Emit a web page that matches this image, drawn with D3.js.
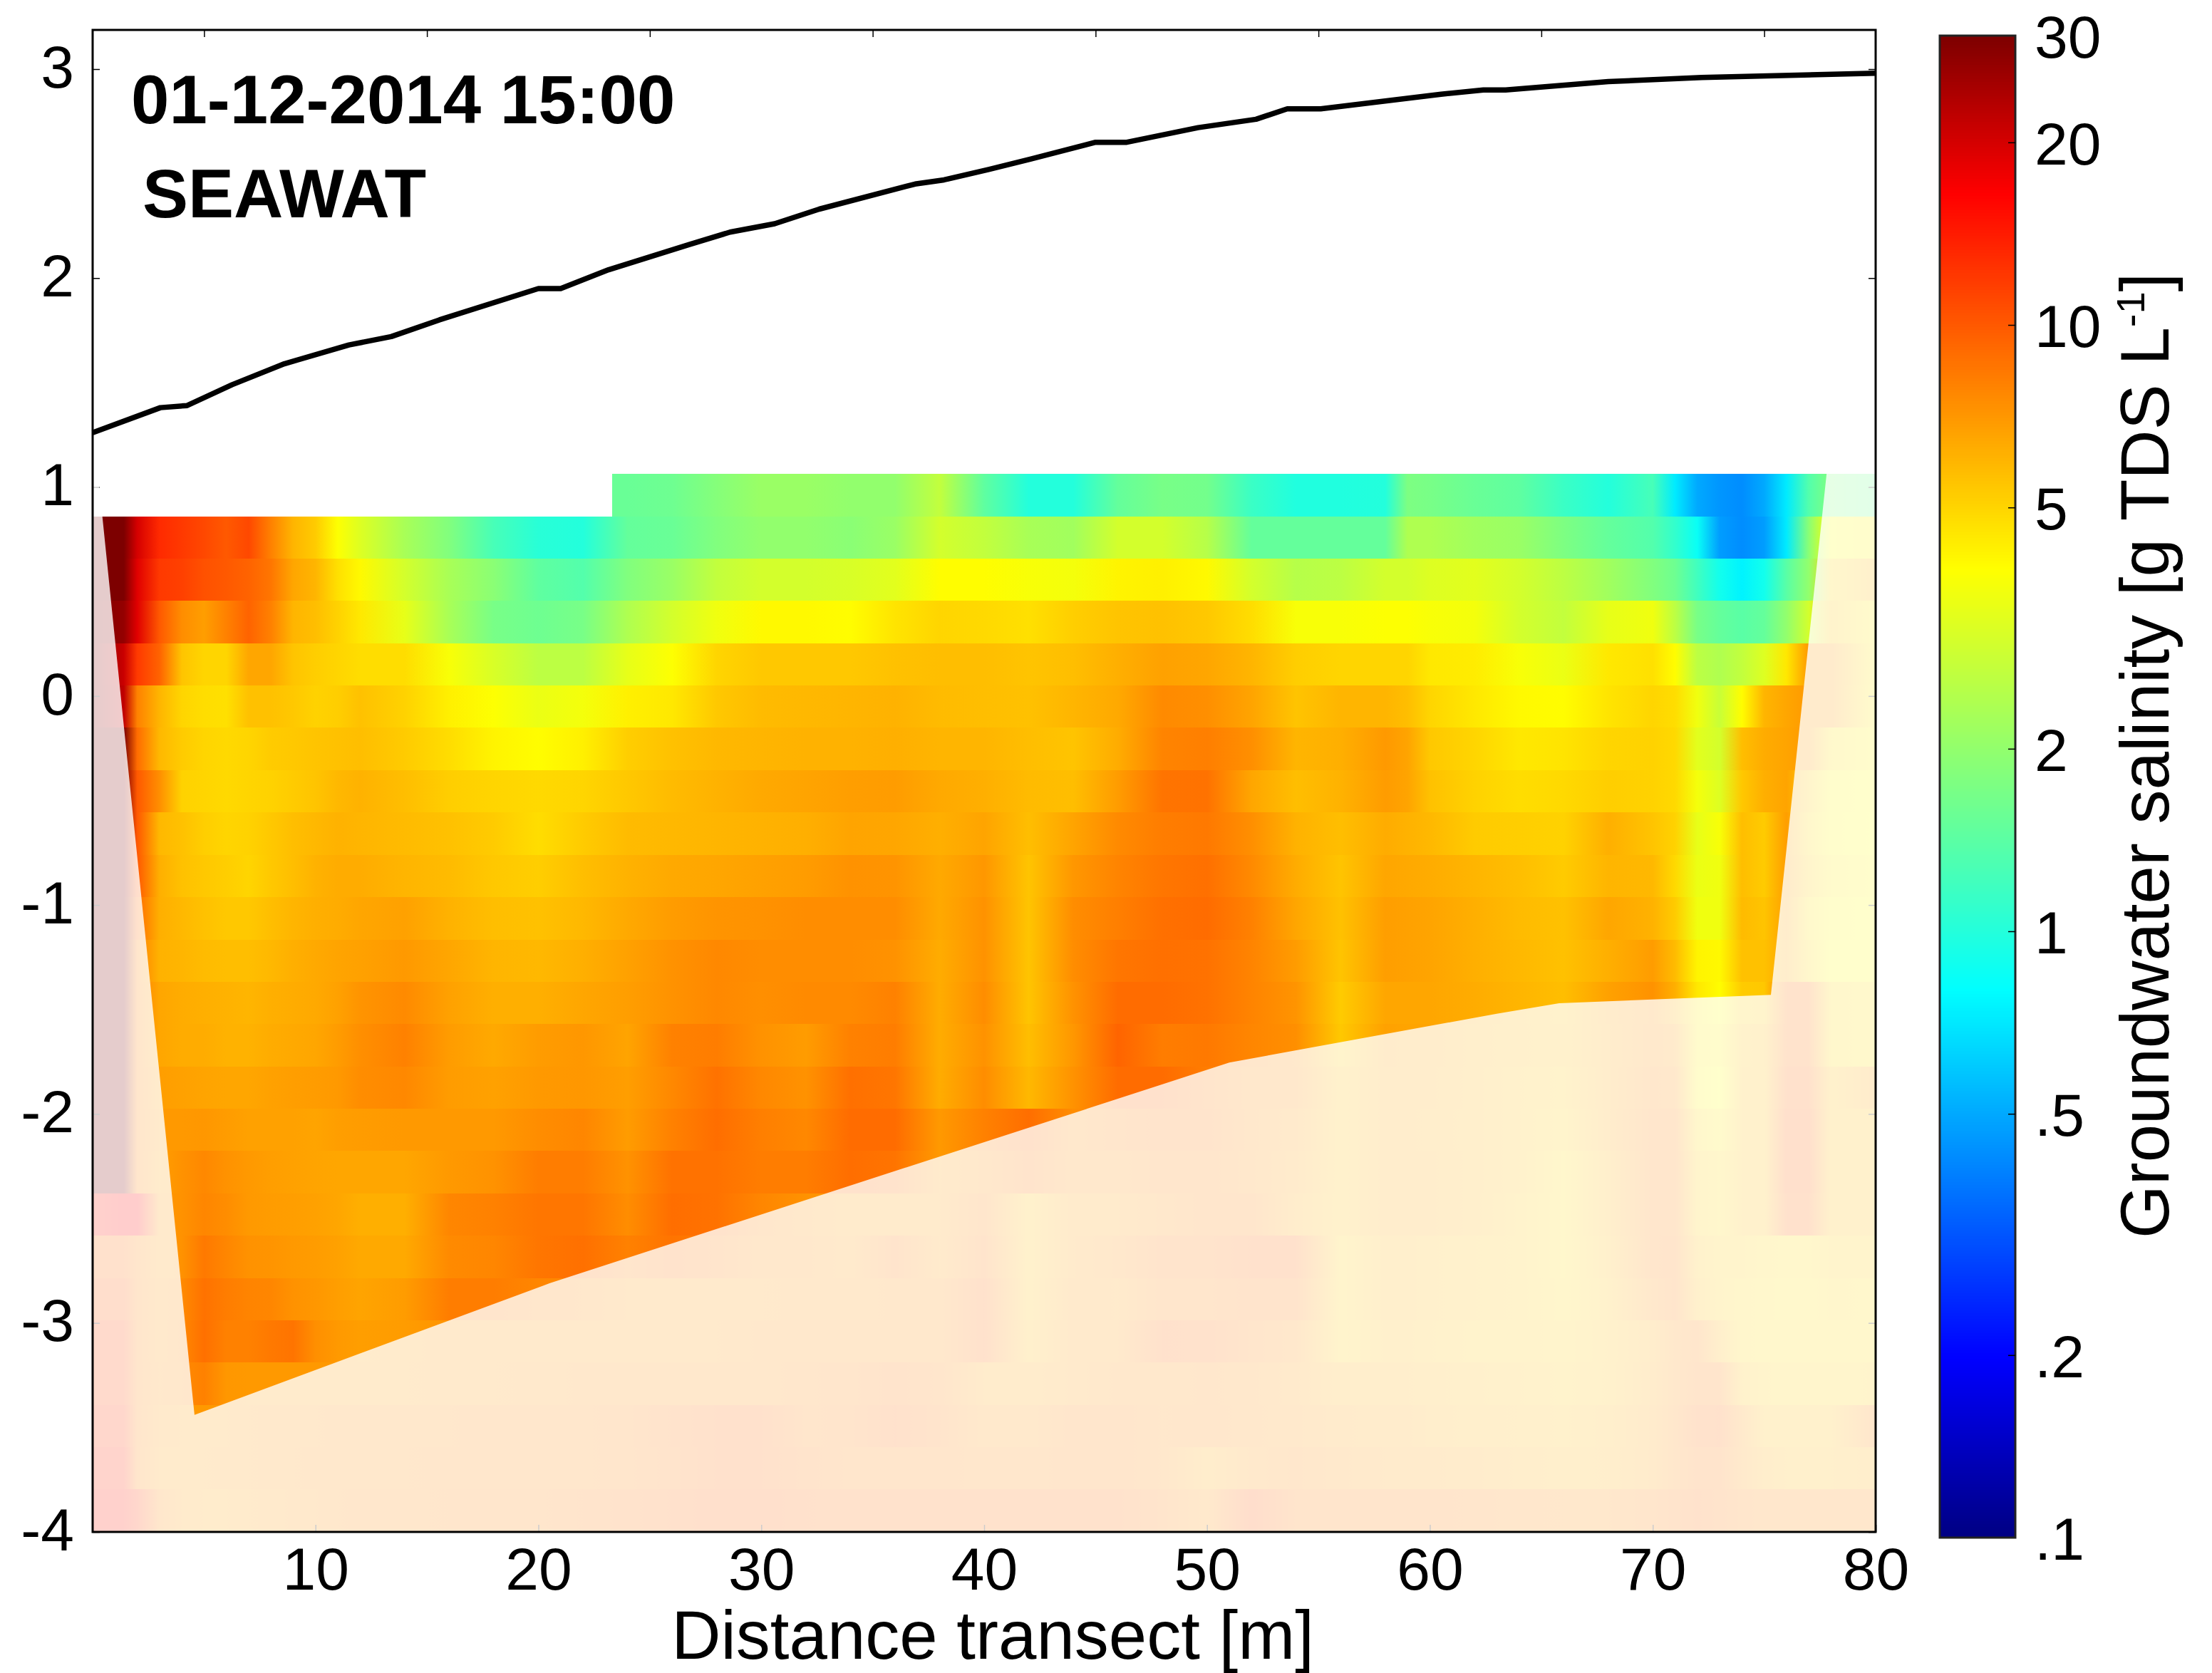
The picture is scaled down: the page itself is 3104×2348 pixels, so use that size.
<!DOCTYPE html>
<html><head><meta charset="utf-8">
<style>html,body{margin:0;padding:0;background:#fff}svg{display:block}text{font-family:"Liberation Sans",Arial,sans-serif;fill:#000}</style>
<script src="https://cdn.jsdelivr.net/npm/d3@7/dist/d3.min.js"></script>
</head><body><svg id="c" width="3104" height="2348"></svg>
<script>
// distance along the transect [m] of each sampled column
const columns=[0,1.4,2,3,4,5,6,7,8,9,10,11,12,
 14,16,18,20,22,24,26,28,30,32,34,36,38,40,42,44,46,48,50,52,54,56,58,
 59,
 60,62,64,66,68,70,
 71,72,73,74,75,76,77,78,
 80];
// layer edges [m]
const layerEdges=[1.063,.860,.658,.455,.253,.050,-.152,-.355,-.557,-.760,-.962,-1.165,-1.367,-1.570,-1.772,-1.975,-2.177,-2.380,-2.582,-2.785,-2.987,-3.190,-3.392,-3.595,-3.797,-4.0];
const layerStart=23.3; // top layer only exists right of this distance
// salinity per layer [g TDS/L]
const layer00=[null,null,null,null,null,null,null,null,null,null,null,null,null,
 null,null,null,null,null,1.55,1.6,1.85,2.1,2.1,2.0,2.0,2.7,1.45,1.0,1.0,1.5,1.7,1.65,1.15,.98,.98,1.0,
 1.75,
 1.7,1.55,1.45,1.15,1.0,1.25,
 .72,.5,.45,.43,.5,.72,1.35,1.8,
 1.6];
const layer01=[30,30,20,13,12,11,10,11,8,6,5.3,3.9,3.2,
 2.3,1.8,1.25,1.03,1.0,1.5,1.55,1.8,2.0,2.0,1.9,2.1,3.0,2.7,2.3,2.2,3.0,3.0,2.5,1.5,1.5,1.5,1.5,
 2.4,
 2.4,2.2,2.1,1.75,1.5,1.35,
 1.1,.85,.47,.43,.47,.72,1.9,4.0,
 4.3];
const layer02=[30,30,19,12,11.5,10.5,10,9.5,8.5,6.5,6,4.7,4.1,
 3.0,2.3,1.9,1.45,1.35,1.8,2.1,2.7,3.0,3.0,3.1,3.3,4.0,4.0,3.8,3.7,4.2,4.3,4.1,3.0,2.5,2.6,3.0,
 3.0,
 3.2,3.3,3.0,2.6,2.2,1.8,
 1.6,1.2,.9,.75,.9,1.4,2.0,5,
 6];
const layer03=[30,27,19,10,7.5,6.8,8,9.5,8,6,5.7,5.1,4.5,
 3.4,2.3,1.7,1.6,1.7,2.4,3.0,3.6,4.1,4.1,4.0,4.6,5.0,4.9,4.7,5.2,5.5,5.6,5.4,4.8,3.8,3.8,3.9,
 3.9,
 3.8,3.7,3.0,2.7,3.4,3.6,
 2.6,1.7,1.5,1.4,1.5,2.0,3.0,5.5,
 4.5];
const layer04=[30,21,12,9.5,5.5,5,5,6.5,6.5,5.5,5.2,5,4.8,
 4.8,3.8,3.1,2.6,2.6,3.4,3.9,5.0,5.4,5.4,5.4,5.6,5.7,5.7,5.5,5.7,6.2,6.7,6.5,6,5.2,5,5,
 5,
 4.5,4.4,3.8,3.5,4.5,4.7,
 4,2.6,2.4,2.7,3.2,4.5,7,7,
 4.5];
const layer05=[30,22,8,6,5,4.8,4.7,5.6,5.6,5.4,5.1,5.2,5.6,
 5.1,4.3,3.9,3.5,3.7,4.3,4.5,5.4,5.8,5.9,6,6.1,5.8,5.7,5.6,6.0,6.4,7.6,7.4,6.6,5.5,6,6,
 5.7,
 5,4.5,4.1,4,4.6,5,
 4.8,3.6,2.8,4,6,6.5,7,7,
 4.4];
const layer06=[30,30,9,5.9,5.3,5,4.9,5,5.3,5.4,5.5,5.6,5.7,
 5.3,4.8,4.2,4,4.3,5.2,5.6,5.9,6,6.1,6.1,6.2,6,6,5.7,5.5,6.3,7.9,8.1,7.4,6,6.2,7,
 6.6,
 5.4,5,4.5,4.6,5,5.1,
 4.9,3.3,3,5.7,6.3,6.6,7,4.8,
 4.3];
const layer07=[30,30,10,7.4,5.1,5,4.9,5,5.1,5.3,5.5,5.9,6.1,
 5.7,5.2,5,4.9,5,5.4,5.8,6.1,6.4,6.6,6.8,6.9,6.4,6.2,5.8,5.7,6.9,8.6,8.7,6.5,5.7,6.1,6.9,
 6.6,
 5.6,5.1,4.8,4.9,5.2,5.1,
 4.9,3.7,3.2,5.4,6.2,6.6,5.4,4.2,
 4.1];
const layer08=[30,30,10,5.9,5.6,5.2,5,5.1,5.4,5.7,5.9,6.1,6,
 5.8,5.6,5.3,4.8,5.3,5.8,5.9,6,6.1,6.2,6.6,6.5,6.2,6.6,5.7,6.6,7.6,8.2,8.4,7.4,6.1,5.7,6.3,
 6.1,
 5.9,5.3,5.2,5.1,6.2,5.5,
 5.1,3.4,3.8,5.7,5.3,6.8,5,4.2,
 4];
const layer09=[30,30,10,6.2,5.6,5.4,5.2,5,5.4,5.7,6.1,6.3,6.3,
 6,5.8,5.4,5.2,5.7,6.1,6.4,6.5,6.7,6.9,7.3,7.2,6.4,7.1,5.5,7.1,7.9,8.5,8.8,7.6,6.3,5.5,6.5,
 6.4,
 6.3,6,5.7,5.3,6,5.9,
 4.9,3.5,3.6,5.7,5.3,6.8,5.3,4.5,
 4.2];
const layer10=[30,30,9,6.2,5.9,5.6,5.4,5.4,5.7,6,6.2,6.3,6.5,
 6.7,6.1,5.7,5.6,5.9,6.4,6.9,7.2,7.3,7.5,7.5,7.5,6.4,7.3,5.5,7.5,8.1,8.8,9,8,6.5,5.6,6.8,
 6.7,
 6.6,6.2,5.8,5.6,6.5,6.1,
 5.3,3.6,3.6,5.8,5.5,6.7,4.8,4.2,
 4.1];
const layer11=[30,30,8,6.1,6,5.8,5.7,5.7,5.9,6.2,6.4,6.6,6.7,
 7,6.5,6,5.9,6.2,6.7,7.3,7.7,7.5,7.5,7.5,7.3,6.3,7.3,5.5,7.5,8.5,8.8,8.7,7.9,6.9,5.5,6.8,
 6.7,
 6.6,6.2,5.9,5.6,6.2,6.9,
 5.8,4.2,4.1,5.6,5.6,6.5,5,4.1,
 4.1];
const layer12=[30,30,8,6.5,6.3,6.2,6.1,6,6.2,6.3,6.4,6.7,7.2,
 7.6,6.7,6.2,6.2,6.5,6.8,7.3,7.7,7.4,7.6,7.6,8,6.3,7.5,5.5,7.3,9,9,8.7,7.9,7.2,5.3,6.5,
 6.5,
 6.5,6.3,6,5.7,6.7,7.3,
 6.2,4.5,4,5.3,5.4,8.5,8.5,5,
 4.8];
const layer13=[30,30,8,6.5,6.3,6.3,6.1,6.1,6.3,6.4,6.5,6.9,7.4,
 8,6.9,6.4,6.9,7.1,6.6,8,8.2,7.3,6.9,8,8.2,6.3,7.3,5.7,7.1,9.4,8.2,8.4,7.8,7.4,5.4,6.7,
 6.6,
 6.6,6.2,6,5.8,6.6,7.4,
 7,4.5,4.3,5.7,5.9,8.5,8.5,5,
 4.8];
const layer14=[30,30,8,6.8,6.7,6.6,6.5,6.5,6.7,6.8,6.9,7,7.5,
 7.7,6.9,6.7,7,7.1,6.8,7.7,8.7,7.7,7.3,8.8,8.5,6.3,7.5,5.9,7.3,9,9,8.2,7.5,7.5,5.8,6.6,
 6.6,
 6.5,6.2,5.8,5.6,6.6,7.7,
 7.5,4.4,4,5.8,5.8,9,9,5.8,
 6.8];
const layer15=[30,30,8,7,7,7.1,6.9,6.7,6.7,6.7,6.6,6.8,6.9,
 7,7,7,7.5,7.8,6.9,8,8.9,8.1,7.7,9,9,7,8,8.9,7.5,8,8.4,8.4,7.5,7.1,5.8,6.6,
 6.5,
 6.4,6.2,5.8,5.4,6.6,8,
 8,5,4.5,5.8,5.8,9.5,9.5,5.8,
 5.8];
const layer16=[30,30,8,6.8,7.3,7.7,7.3,7,6.8,6.7,6.6,6.5,6.5,
 6.5,7,7.3,8.2,8.2,7.3,8.7,8.7,8.2,8.2,8.9,8.6,7,7.5,8.4,7.5,7.5,8,8,7.5,6.9,5.8,6.6,
 6.6,
 6.5,6.2,5.8,5,6.2,8,
 8,5.4,5,5.8,5.8,9.5,9.5,5.8,
 5.8];
const layer17=[14,16,16,7.1,7.3,7.8,7.5,7,6.9,6.8,6.7,6.5,6.2,
 6.2,7.8,8,8.5,8.5,7.5,8.9,8.7,7.8,7.3,6.9,7,7,8,5.8,7,7,7.5,8,8,6.6,5.8,6.6,
 6.6,
 6.5,6.2,5.6,5,6.2,8,
 8,5.4,5,5.8,5.8,9,9,5.8,
 5.8];
const layer18=[9,9,8,7.1,7.3,8.4,7.8,7.3,7.2,7,6.9,6.7,6.4,
 6.4,7.6,7.8,8.5,8.8,8,8.6,8.2,7.5,7.5,7.1,8.4,7,8.4,5.8,7,7.5,8.4,8.4,9,9,5.4,6.2,
 6.2,
 6,5.8,5.6,5,6,8,
 8.2,5.8,5.4,5.4,5.1,5,5,5.4,
 5.4];
const layer19=[10,10,8,7.3,7.6,8.7,8.2,7.9,7.8,7.3,7.1,6.8,6.6,
 6.9,8.2,8.2,7.8,7.6,7.2,7.2,7.2,7.2,7.3,7.3,7.5,7.5,9,5.8,7.2,7,8,8,8.4,8.4,5.4,6.2,
 6.2,
 6,5.8,5.6,5.1,5.8,7.5,
 8.2,6,5.4,5.1,5,4.8,4.8,5.1,
 5];
const layer20=[11,11,8,7.3,7.7,8.8,8,8,8.4,8.6,7.4,7,6.8,
 6.9,7.2,7.2,7.2,7.2,7.2,7.2,7.2,7.5,7.5,7.5,7.5,7.5,9,6,7.2,7.2,9,8.9,8,7.5,5.4,6,
 6,
 5.8,5.6,5.6,5.4,5.8,6.5,
 7.5,8,6.2,5.1,5,5,5,5,
 5];
const layer21=[11,11,8,7.4,7.6,8,7.1,7,7,7,7,7,7,
 7,7.1,7.2,7.3,7.5,7.5,7.5,7.5,7.5,7.8,8,8.4,8,6.8,6.7,7.1,7.5,7.5,7.7,7.5,7.1,6.3,6.3,
 6.3,
 6.2,6,5.8,5.6,5.8,6.7,
 7.5,8.2,8.2,5.8,5.4,5.2,5.2,5.2,
 5.4];
const layer22=[12,12,8,7.2,7,7,7,7.2,7.3,7.3,7.4,7.5,7.5,
 7.6,7.6,7.8,7.8,7.8,8,8.5,9,9,8,8.2,9,8.3,7.3,7.3,8,8,7.6,7.8,7.5,7.3,6.9,6.7,
 6.7,
 6.4,6.2,6.1,5.9,6.2,6.9,
 7.7,8.8,9,7.2,5.9,5.9,5.9,5.9,
 8];
const layer23=[13,13,8,7,7,7,7.1,7.2,7.3,7.4,7.5,7.5,7.5,
 7.6,7.7,7.7,7.8,7.8,8,8.4,9,9,8.4,8,8,8,7.7,7.7,8,8,7.6,6.5,7.3,7.7,7.3,7,
 6.9,
 6.9,6.7,6.4,6.2,6.3,6.9,
 7.7,8.4,8.4,7.2,6.4,6.1,6.1,6.1,
 6.4];
const layer24=[14,14,12,7.8,7,6.8,6.8,7,7.1,7.3,7.4,7.6,7.7,
 7.8,7.9,8,8,8.3,8.6,9,9.5,9.5,9,8.8,8.8,8.8,8.8,8.8,8.8,8.8,8.2,7.3,10,8.2,8.2,8.2,
 8.2,
 8.2,8,7.7,7.6,7.6,8,
 8.4,8.8,8.4,8,7.7,7.7,7.7,7.7,
 7.7];
const layers=[layer00,layer01,layer02,layer03,layer04,layer05,layer06,layer07,layer08,layer09,layer10,layer11,layer12,layer13,layer14,layer15,layer16,layer17,layer18,layer19,layer20,layer21,layer22,layer23,layer24];
// outline of the modelled domain (distance, elevation)
const domainX=[0.24,4.57,20.5,51,63,65.8,75.3,77.8];
const domainZ=[1.063,-3.44,-2.81,-1.754,-1.52,-1.47,-1.43,1.063];
// ground surface (distance, elevation)
const surfaceX=[0,3.04,4.24,6.26,8.6,11.5,13.4,15.56,20,21,23.15,26.75,28.6,30.6,32.6,36.9,38.2,40.2,42.1,45,46.4,49.6,52.2,53.6,55.1,60.5,62.4,63.4,68,72.2,80];
const surfaceZ=[1.26,1.38,1.39,1.49,1.59,1.68,1.72,1.80,1.95,1.95,2.04,2.16,2.22,2.26,2.33,2.45,2.47,2.52,2.57,2.65,2.65,2.72,2.76,2.81,2.81,2.88,2.90,2.90,2.94,2.96,2.98];
const xTicks=[10,20,30,40,50,60,70,80];
const xTopTicks=[5,15,25,35,45,55,65,75];
const yTicks=[-4,-3,-2,-1,0,1,2,3];
const cbTicks=[.1,.2,.5,1,2,5,10,20,30];
const cbLabels=['.1','.2','.5','1','2','5','10','20','30'];

layers.forEach((r,i)=>{if(r.length!==columns.length)console.error('layer',i,r.length)});

const FS=84;
const L=130,R=2632,T=42,B=2150;
const svg=d3.select('#c');
const defs=svg.append('defs');
const x=d3.scaleLinear().domain([0,80]).range([L,R]);
const y=d3.scaleLinear().domain([-4,3]).range([B,97]);
const tScale=d3.scaleLog().domain([.1,30]).range([0,1]);
const jet=d3.scaleLinear().domain([0,.12,.365,.645,.895,1])
 .range(['#000082','#0000ff','#00ffff','#ffff00','#ff0000','#7d0000']);
const col=v=>jet(tScale(v));

// heat layers
layers.forEach((vals,i)=>{
 const id='layer'+i;
 const g=defs.append('linearGradient').attr('id',id).attr('gradientUnits','userSpaceOnUse')
  .attr('x1',x(0)).attr('x2',x(80)).attr('y1',0).attr('y2',0);
 columns.forEach((c,j)=>{ if(vals[j]!=null) g.append('stop').attr('offset',c/80).attr('stop-color',col(vals[j])); });
 const x0=i===0?x(layerStart):L;
 svg.append('rect').attr('x',x0).attr('width',R-x0)
  .attr('y',y(layerEdges[i])).attr('height',y(layerEdges[i+1])-y(layerEdges[i]))
  .attr('fill','url(#'+id+')').attr('shape-rendering','crispEdges');
});

// axes
const axisStyle=g=>{g.select('.domain').remove();
 g.selectAll('line').attr('stroke','#000').attr('stroke-width',1.5);
 g.selectAll('text').attr('font-size',FS).style('font-family','"Liberation Sans",Arial,sans-serif').attr('fill','#000');};
svg.append('g').attr('transform',`translate(0,${B})`)
 .call(d3.axisBottom(x).tickValues(xTicks).tickSize(-10).tickPadding(21).tickFormat(d3.format('d'))).call(axisStyle);
svg.append('g').attr('transform',`translate(0,${T})`)
 .call(d3.axisTop(x).tickValues(xTopTicks).tickSize(-10).tickFormat('')).call(axisStyle);
svg.append('g').attr('transform',`translate(${L},0)`)
 .call(d3.axisLeft(y).tickValues(yTicks).tickSize(-10).tickPadding(26).tickFormat(d3.format('d'))).call(axisStyle)
 .selectAll('text').text(d=>String(d)).attr('dy','.3em');
svg.append('g').attr('transform',`translate(${R},0)`)
 .call(d3.axisRight(y).tickValues(yTicks).tickSize(-10).tickFormat('')).call(axisStyle);

// veil outside the modelled domain
const outer=`M${L},${y(layerEdges[0])}H${R}V${B}H${L}Z`;
const inner=d3.line().x((d,i)=>x(domainX[i])).y((d,i)=>y(domainZ[i])).curve(d3.curveLinearClosed)(domainX);
svg.append('path').attr('d',outer+inner).attr('fill','#fff').attr('fill-opacity',.8).attr('fill-rule','evenodd');

// ground surface
svg.append('path').attr('d',d3.line().x(d=>x(d)).y((d,i)=>y(surfaceZ[i]))(surfaceX))
 .attr('fill','none').attr('stroke','#000').attr('stroke-width',7.5).attr('stroke-linejoin','round');

// frame
svg.append('rect').attr('x',L).attr('y',T).attr('width',R-L).attr('height',B-T)
 .attr('fill','none').attr('stroke','#000').attr('stroke-width',3);

// titles
svg.append('text').attr('x',184).attr('y',173).attr('font-size',96).attr('font-weight','bold').text('01-12-2014 15:00');
svg.append('text').attr('x',200).attr('y',305).attr('font-size',96).attr('font-weight','bold').text('SEAWAT');
svg.append('text').attr('x',1393).attr('y',2328).attr('font-size',96).attr('text-anchor','middle').text('Distance transect [m]');

// colour bar
const cbL=2722,cbR=2828,cbT=50,cbB=2158;
const cy=d3.scaleLog().domain([.1,30]).range([cbB,cbT]);
const levels=d3.range(cbB,cbT,-4);
svg.append('g').selectAll('rect').data(levels).join('rect')
 .attr('x',cbL).attr('width',cbR-cbL).attr('y',d=>d-4).attr('height',4.5)
 .attr('fill',d=>col(cy.invert(d-2))).attr('shape-rendering','crispEdges');
svg.append('rect').attr('x',cbL).attr('y',cbT).attr('width',cbR-cbL).attr('height',cbB-cbT)
 .attr('fill','none').attr('stroke','#222').attr('stroke-width',3);
const cbAxis=svg.append('g').attr('transform',`translate(${cbR},0)`)
 .call(d3.axisRight(cy).tickValues(cbTicks).tickSize(-10).tickPadding(27).tickFormat((d,i)=>cbLabels[i])).call(axisStyle);
cbAxis.selectAll('text').attr('dy','.36em');
cbAxis.selectAll('.tick').filter(d=>d===.1||d===30).select('line').remove();
const cbt=svg.append('text').attr('transform','translate(3043,1738) rotate(-90)').attr('font-size',96);
cbt.append('tspan').text('Groundwater salinity [g TDS L');
cbt.append('tspan').attr('dy',-34).attr('font-size',56).text('-1');
cbt.append('tspan').attr('dy',34).text(']');
</script></body></html>
